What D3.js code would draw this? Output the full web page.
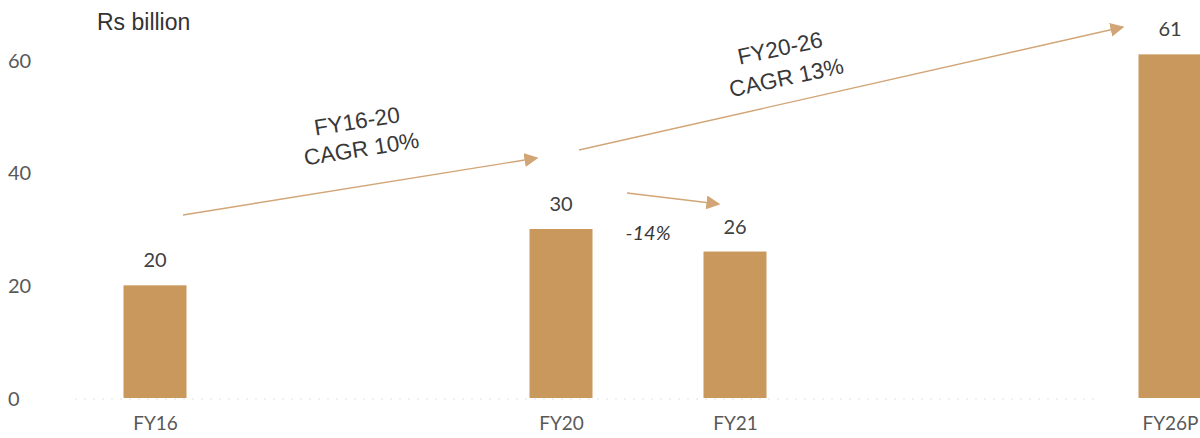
<!DOCTYPE html>
<html>
<head>
<meta charset="utf-8">
<script src="https://cdn.jsdelivr.net/npm/d3@7"></script>
<style>
  html, body { margin: 0; padding: 0; background: #fff; }
  svg { display: block; }
</style>
</head>
<body>
<svg id="chart" width="1200" height="438"></svg>
<script>
// Market size, Rs billion
const categories = ["FY16", "FY20", "FY21", "FY26P"];
const values = [20, 30, 26, 61];
const yTicks = [0, 20, 40, 60];
const unitLabel = "Rs billion";

// Growth annotations between bars
const growthFrom = ["FY16", "FY20", "FY20"];
const growthTo = ["FY20", "FY26P", "FY21"];
const growthText = [["FY16-20", "CAGR 10%"], ["FY20-26", "CAGR 13%"], ["-14%"]];

// Layout: bars sit on an uneven time track (slot index per category)
const slot = { FY16: 0, FY20: 14, FY21: 20, FY26P: 35 };

const barColor = "#c8985c";
const arrowColor = "#d2a576";
const svg = d3.select("#chart");

const x = d3.scaleLinear().domain([0, 35]).range([155, 1170]);
const y = d3.scaleLinear().domain([0, 60]).range([398, 60]);
const barW = 63;
const cx = c => x(slot[c]);

const defs = svg.append("defs");
defs.append("marker")
  .attr("id", "head")
  .attr("viewBox", "0 0 10 10")
  .attr("refX", 9).attr("refY", 5)
  .attr("markerWidth", 14).attr("markerHeight", 14)
  .attr("markerUnits", "userSpaceOnUse")
  .attr("orient", "auto")
  .append("path")
  .attr("d", "M0,0 L10,5 L0,10 Z")
  .attr("fill", arrowColor);

// faint dotted baseline
svg.append("line")
  .attr("x1", 75).attr("x2", 1100)
  .attr("y1", y(0) + 1).attr("y2", y(0) + 1)
  .attr("stroke", "#e2e2e2")
  .attr("stroke-width", 1)
  .attr("stroke-dasharray", "2 7");

// y axis labels (left aligned, no axis line)
const yAxis = d3.axisLeft(y).tickValues(yTicks).tickSize(0).tickPadding(0);
const gy = svg.append("g").attr("transform", "translate(8,0)").call(yAxis);
gy.select(".domain").remove();
gy.selectAll("text")
  .attr("text-anchor", "start")
  .attr("x", 0)
  .attr("dy", "0.35em")
  .style("font-family", "Lato, 'Open Sans', sans-serif")
  .style("font-size", "20px")
  .attr("fill", "#595959");

// x axis labels
const xAxis = d3.axisBottom(x)
  .tickValues(categories.map(c => slot[c]))
  .tickFormat((d, i) => categories[i])
  .tickSize(0).tickPadding(0);
const gx = svg.append("g").attr("transform", "translate(0,416)").call(xAxis);
gx.select(".domain").remove();
gx.selectAll("text")
  .attr("dy", "0.75em")
  .style("font-family", "Lato, 'Open Sans', sans-serif")
  .style("font-size", "19px")
  .attr("fill", "#595959");

// bars
svg.append("g").selectAll("rect")
  .data(categories)
  .join("rect")
  .attr("x", c => cx(c) - barW / 2)
  .attr("width", barW)
  .attr("y", (c, i) => y(values[i]))
  .attr("height", (c, i) => y(0) - y(values[i]))
  .attr("fill", barColor);

// value labels
svg.append("g").selectAll("text")
  .data(categories)
  .join("text")
  .attr("x", c => cx(c))
  .attr("y", (c, i) => y(values[i]) - 18)
  .attr("text-anchor", "middle")
  .style("font-family", "Lato, 'Open Sans', sans-serif")
  .style("font-size", "20px")
  .attr("fill", "#404040")
  .text((c, i) => values[i]);

// unit label
svg.append("text")
  .attr("x", 97).attr("y", 30)
  .style("font-family", "'Liberation Sans', Arial, sans-serif")
  .style("font-size", "23px")
  .attr("fill", "#333")
  .text(unitLabel);

// growth arrows
const arrows = [
  { x1: cx(growthFrom[0]) + 28, y1: 215, x2: cx(growthTo[0]) - 24, y2: 158 },
  { x1: cx(growthFrom[1]) + 18, y1: 150, x2: cx(growthTo[1]) - 47, y2: 27 },
  { x1: cx(growthFrom[2]) + 66, y1: 193, x2: cx(growthTo[2]) - 16, y2: 204 }
];
svg.append("g").selectAll("line")
  .data(arrows)
  .join("line")
  .attr("x1", d => d.x1).attr("y1", d => d.y1)
  .attr("x2", d => d.x2).attr("y2", d => d.y2)
  .attr("stroke", arrowColor)
  .attr("stroke-width", 1.4)
  .attr("marker-end", "url(#head)");

// growth captions
const captions = [
  { x: 357, y: 121, angle: -9, lh: 28, italic: false, size: 22.5 },
  { x: 780, y: 48, angle: -12, lh: 30, italic: false, size: 22.5 },
  { x: 648, y: 233, angle: 0, lh: 0, italic: true, size: 20 }
];
captions.forEach((c, i) => {
  const t = svg.append("text")
    .attr("transform", `translate(${c.x},${c.y}) rotate(${c.angle})`)
    .attr("text-anchor", "middle")
    .style("font-family", c.italic ? "Lato, 'Open Sans', sans-serif" : "'Liberation Sans', Arial, sans-serif")
    .style("font-size", c.size + "px")
    .style("font-style", c.italic ? "italic" : "normal")
    .attr("fill", "#383838");
  growthText[i].forEach((line, j) => {
    t.append("tspan").attr("x", 0).attr("y", j * c.lh).attr("dy", "0.35em").text(line);
  });
});
</script>
</body>
</html>
